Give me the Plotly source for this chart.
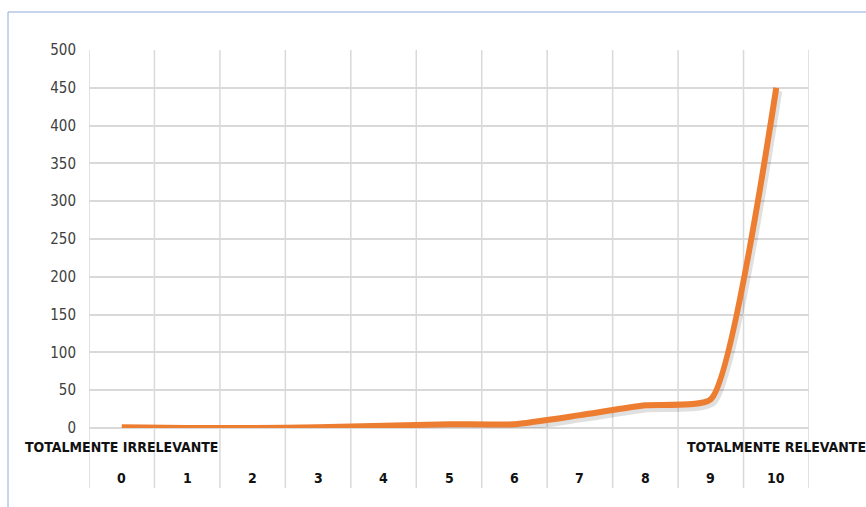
import plotly.graph_objects as go

categories = [0, 1, 2, 3, 4, 5, 6, 7, 8, 9, 10]
values = [1, 0, 0, 1, 3, 5, 5, 17, 30, 38, 450]
outer_labels = {0: "TOTALMENTE IRRELEVANTE", 10: "TOTALMENTE RELEVANTE"}
y_ticks = list(range(0, 501, 50))

W, H = 866, 507
L, R, T, B = 89, 809, 50, 428
ph = B - T
y_max = 500
unit_px = ph / y_max

def py(pix):
    return (B - pix) / ph

def px(pix):
    return (pix - L) / (R - L)

FONT = "DejaVu Sans Condensed, Liberation Sans Narrow, Arial Narrow, sans-serif"
GRID = "#d9d9d9"
line_cfg = dict(shape="spline", smoothing=0.5)

fig = go.Figure()
# soft shadow: same data on a slightly offset overlay axis (drawn first)
sh_dy = 3 / unit_px
sh_dx = 2 / ((R - L) / len(categories))
fig.add_trace(go.Scatter(
    x=categories, y=values, mode="lines", xaxis="x2", yaxis="y2",
    line=dict(color="rgba(0,0,0,0.12)", width=8, **line_cfg),
    hoverinfo="skip", showlegend=False,
))
fig.add_trace(go.Scatter(
    x=categories, y=values, mode="lines", xaxis="x3", yaxis="y3",
    line=dict(color="#ED7D31", width=6, **line_cfg),
    hoverinfo="skip", showlegend=False,
))

shapes = []
n = len(categories)
for i in range(n + 1):
    b = categories[0] - 0.5 + i
    shapes.append(dict(type="line", xref="x", yref="paper", x0=b, x1=b,
                       y0=py(488), y1=1, line=dict(color=GRID, width=1.5), layer="below"))
shapes.append(dict(type="rect", xref="paper", yref="paper",
                   x0=px(8), x1=px(880), y0=py(520), y1=py(12),
                   line=dict(color="#8FAADC", width=1), layer="below"))

annotations = []
for c in categories:
    annotations.append(dict(x=c, y=py(478), xref="x", yref="paper", text="<b>" + str(c) + "</b>",
                            showarrow=False, font=dict(family=FONT, size=14, color="#111111"),
                            xanchor="center", yanchor="middle"))
for c, t in outer_labels.items():
    annotations.append(dict(x=c, y=py(447), xref="x", yref="paper", text="<b>" + t + "</b>",
                            showarrow=False, font=dict(family=FONT, size=14, color="#111111"),
                            xanchor="center", yanchor="middle"))

fig.update_layout(
    width=W, height=H, autosize=False,
    margin=dict(l=L, r=W - R, t=T, b=H - B),
    paper_bgcolor="white", plot_bgcolor="rgba(0,0,0,0)",
    xaxis=dict(range=[-0.5, 10.5], showgrid=False, zeroline=False,
               showticklabels=False, ticks="", fixedrange=True),
    yaxis=dict(range=[0, y_max], tickvals=y_ticks, showgrid=True, gridcolor=GRID,
               gridwidth=1.5, zeroline=True, zerolinecolor=GRID, zerolinewidth=1.5,
               ticks="", ticklabelstandoff=12,
               tickfont=dict(family=FONT, size=15, color="#404040")),
    xaxis2=dict(range=[-0.5 - sh_dx, 10.5 - sh_dx], overlaying="x", visible=False),
    yaxis2=dict(range=[sh_dy, y_max + sh_dy], overlaying="y", visible=False),
    xaxis3=dict(range=[-0.5, 10.5], overlaying="x", visible=False),
    yaxis3=dict(range=[0, y_max], overlaying="y", visible=False),
    shapes=shapes, annotations=annotations,
)

fig.write_html("out.html")
